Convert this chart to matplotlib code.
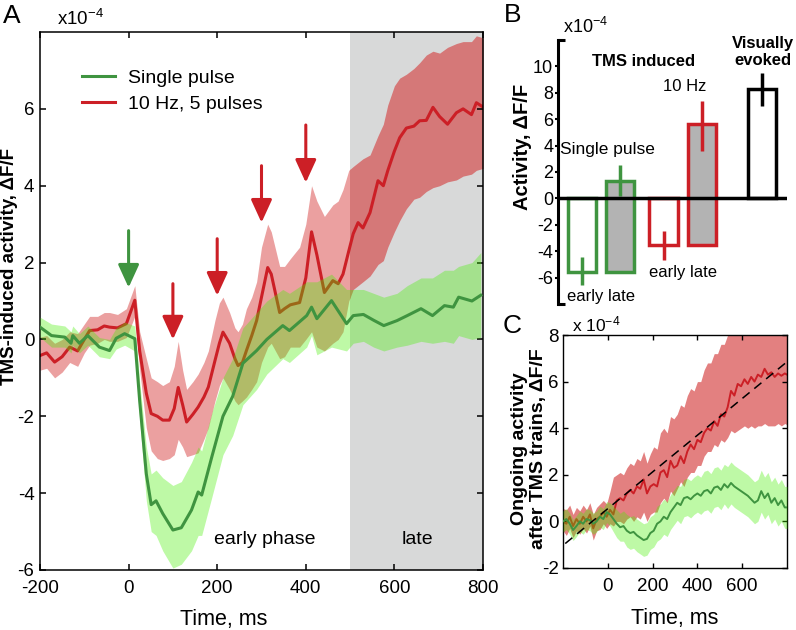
import numpy as np
import matplotlib.pyplot as plt
from matplotlib.patches import Rectangle

plt.rcParams["font.family"] = ["Liberation Sans", "DejaVu Sans"]
plt.rcParams["mathtext.fontset"] = "custom"
plt.rcParams["mathtext.rm"] = "Liberation Sans"
plt.rcParams["mathtext.it"] = "Liberation Sans:italic"
plt.rcParams["mathtext.bf"] = "Liberation Sans:bold"
plt.rcParams["axes.unicode_minus"] = False

GREEN = "#3f9440"
RED = "#cc1f26"
GREEN_FILL = "#45f000"
RED_FILL = "#eba0a0"
RED_FILL_LATE = "#d57878"
RED_FILL_C = "#e38080"
GRAY = "#d8d9d9"

# ---- panel A data (x1e-4 dF/F vs ms) ----
red_t = [-200, -185, -167, -150, -133, -115, -100, -88, -70, -55, -43, -25, -5, 14,
         25, 40, 51, 65, 77, 92, 103, 112, 122, 131, 145, 157, 170, 180, 195, 205,
         213, 228, 240, 247, 257, 266, 278, 289, 300, 314, 322, 341, 352, 365, 386,
         400, 413, 425, 442, 461, 473, 484, 497, 507, 518, 529, 545, 563, 575, 585,
         600, 612, 627, 644, 657, 672, 687, 702, 720, 740, 755, 774, 785, 800]
red_mean = [-0.42, -0.35, -0.59, -0.45, -0.2, -0.3, 0.0, 0.23, 0.25, 0.35, 0.32, 0.3, 0.41, 1.02,
            -0.3, -1.4, -1.93, -2.0, -2.1, -2.1, -1.8, -1.25, -1.7, -2.15, -1.95, -1.76, -1.5, -1.24, -0.55, -0.1,
            0.19, -0.1, -0.5, -0.68, -0.6, -0.29, 0.1, 0.49, 1.1, 1.87, 1.7, 0.7, 0.8, 0.9, 0.96,
            1.6, 2.8, 2.2, 1.22, 1.53, 1.45, 1.7, 2.3, 2.75, 3.04, 2.9, 3.3, 4.13, 4.0, 4.39,
            4.9, 5.25, 5.5, 5.55, 5.69, 5.7, 6.04, 5.8, 5.6, 5.9, 6.0, 5.85, 6.16, 6.05]
red_hi = [0.06, 0.1, -0.1, 0.0, 0.2, 0.15, 0.4, 0.6, 0.6, 0.7, 0.7, 0.65, 0.8, 1.4,
          0.2, -0.5, -1.0, -1.1, -1.2, -1.1, -0.7, -0.05, -0.8, -1.3, -1.1, -0.9, -0.6, -0.3, 0.5, 0.95,
          1.1, 0.7, 0.3, 0.2, 0.4, 0.8, 1.1, 1.5, 2.4, 3.0, 2.8, 1.9, 1.9, 2.1, 2.4,
          3.0, 4.0, 3.6, 3.2, 3.5, 3.6, 3.9, 4.4, 4.5, 4.6, 4.7, 4.8, 5.3, 5.6, 6.1,
          6.6, 6.8, 6.9, 7.05, 7.2, 7.4, 7.5, 7.45, 7.6, 7.7, 7.75, 7.75, 7.9, 7.85]
red_lo = [-0.8, -0.75, -1.0, -0.85, -0.6, -0.7, -0.35, -0.15, -0.1, 0.0, -0.05, -0.05, 0.05, 0.6,
          -0.8, -2.3, -2.9, -3.1, -3.15, -3.1, -3.0, -2.6, -2.8, -3.05, -3.0, -2.95, -2.6, -2.3, -1.6, -1.2,
          -1.0, -1.3, -1.6, -1.7, -1.6, -1.5, -1.3, -1.1, -0.6, -0.2, -0.1, -0.5, -0.45, -0.2, -0.2,
          0.0, 0.2, -0.2, -0.3, -0.1, 0.0, 0.2, 1.0, 1.3, 1.4, 1.5, 1.65, 1.95, 2.05, 2.4,
          2.8, 3.09, 3.4, 3.65, 3.7, 3.85, 3.95, 4.0, 4.1, 4.15, 4.25, 4.3, 4.4, 4.45]

green_t = [-200, -174, -144, -130, -126, -111, -92, -66, -43, -28, -9, 14, 25, 40, 51,
           62, 77, 100, 119, 142, 157, 165, 188, 213, 235, 258, 289, 312, 348, 363,
           402, 413, 425, 458, 492, 507, 530, 553, 576, 606, 629, 660, 686, 713, 733,
           745, 775, 795]
green_mean = [0.32, 0.1, 0.06, -0.1, 0.1, -0.1, 0.1, -0.2, -0.29, 0.03, 0.15, 0.02, -1.6, -3.5, -4.3,
              -4.2, -4.53, -4.96, -4.9, -4.44, -3.97, -4.05, -3.05, -2.0, -1.48, -0.62, -0.29, 0.0, 0.36, 0.23,
              0.62, 0.84, 0.54, 1.01, 0.41, 0.62, 0.65, 0.5, 0.36, 0.49, 0.62, 0.8, 0.62, 0.88, 0.84,
              1.1, 1.0, 1.15]
green_hi = [0.58, 0.4, 0.35, 0.2, 0.35, 0.15, 0.35, 0.05, 0.0, 0.3, 0.45, 0.35, -1.1, -2.8, -3.5,
            -3.4, -3.6, -3.8, -3.7, -3.2, -2.8, -2.9, -1.9, -1.0, -0.5, 0.3, 0.7, 1.0, 1.3, 1.2,
            1.5, 1.5, 1.5, 1.7, 1.3, 1.3, 1.3, 1.2, 1.1, 1.2, 1.4, 1.6, 1.6, 1.8, 1.8,
            1.9, 2.0, 2.26]
green_lo = [0.06, -0.2, -0.2, -0.35, -0.15, -0.35, -0.15, -0.45, -0.5, -0.25, -0.15, -0.3, -2.1, -4.2, -5.0,
            -5.1, -5.5, -5.95, -5.85, -5.5, -5.1, -5.1, -4.1, -3.0, -2.5, -1.7, -1.3, -0.9, -0.5, -0.6,
            -0.2, 0.1, -0.4, -0.2, -0.3, -0.1, -0.05, -0.2, -0.3, -0.2, -0.15, -0.05, -0.1, -0.05, -0.1,
            0.1, 0.0, 0.05]

# pulse arrows: time, arrow top, arrow tip
arrow_t = [0, 100, 200, 300, 400]
arrow_top = [2.83, 1.45, 2.62, 4.52, 5.58]
arrow_tip = [1.35, 0.0, 1.14, 3.04, 4.08]
arrow_col = [GREEN, RED, RED, RED, RED]

# ---- panel B data ----
early_vals = [-5.6, -3.5]
late_vals = [1.3, 5.6]
visual_val = 8.3
bar_err_center = [-5.5, 1.35, -3.6, 5.5, 8.25]
bar_err = [1.05, 1.2, 1.1, 1.9, 1.25]

# ---- panel C data ----
c_t = [-200, -185, -170, -155, -140, -125, -110, -95, -80, -65, -50, -35, -20, -5,
       10, 25, 40, 55, 70, 85, 100, 115, 130, 145, 160, 175, 190, 205,
       220, 235, 250, 265, 280, 295, 310, 325, 340, 355, 370, 385, 400, 415,
       430, 445, 460, 475, 490, 505, 520, 535, 550, 565, 580, 595, 610, 625,
       640, 655, 670, 685, 700, 715, 730, 745, 760, 775, 790, 800]
c_red = [0.0, -0.1, 0.2, -0.2, 0.1, -0.1, 0.2, 0.0, 0.3, -0.3, 0.1, 0.2, 0.4, 0.2,
         0.5, 0.3, 0.9, 1.0, 0.9, 1.2, 1.35, 1.2, 1.5, 1.4, 1.8, 1.2, 1.5, 1.6,
         1.5, 2.1, 2.2, 1.9, 2.6, 2.3, 2.4, 2.8, 2.5, 3.0, 3.3, 3.1, 3.5, 3.4,
         3.8, 4.0, 3.9, 4.3, 4.1, 4.6, 4.5, 4.9, 5.6, 5.4, 5.9, 5.8, 6.1, 5.9,
         6.2, 6.0, 6.3, 6.2, 6.55, 6.3, 6.4, 6.2, 6.35, 6.25, 6.35, 6.3]
c_red_hi = [0.55, 0.5, 0.7, 0.3, 0.6, 0.45, 0.7, 0.5, 0.8, 0.3, 0.6, 0.75, 0.9, 0.75,
            1.3, 1.9, 2.0, 2.1, 2.0, 2.3, 2.5, 2.4, 2.7, 2.6, 3.0, 2.5, 2.9, 3.2,
            3.1, 3.8, 4.0, 3.8, 4.5, 4.4, 4.6, 5.0, 4.9, 5.4, 5.7, 5.6, 6.0, 6.0,
            6.5, 6.8, 6.8, 7.2, 7.2, 7.6, 7.6, 8.0, 8.6, 8.6, 8.9, 9.0, 9.2, 9.1,
            9.3, 9.2, 9.4, 9.4, 9.6, 9.4, 9.5, 9.4, 9.5, 9.4, 9.5, 9.5]
c_red_lo = [-0.4, -0.6, -0.3, -0.7, -0.4, -0.55, -0.3, -0.5, -0.2, -0.8, -0.4, -0.35, -0.1, -0.3,
            -0.1, -0.2, 0.0, 0.0, -0.1, 0.1, 0.2, 0.0, 0.2, 0.1, 0.4, 0.0, 0.3, 0.4,
            0.4, 0.8, 1.0, 0.8, 1.3, 1.1, 1.4, 1.7, 1.5, 1.9, 2.1, 2.1, 2.4, 2.4,
            2.8, 3.0, 3.0, 3.3, 3.2, 3.5, 3.4, 3.6, 3.9, 3.8, 3.9, 4.0, 4.1, 4.0,
            4.1, 4.0, 4.1, 4.1, 4.2, 4.1, 4.1, 4.1, 4.2, 4.1, 4.2, 4.15]
c_green = [0.0, 0.1, -0.1, -0.37, -0.2, 0.0, -0.1, 0.1, 0.05, -0.1, 0.0, 0.2, 0.1, 0.4,
           0.3, 0.1, -0.1, -0.25, -0.2, -0.4, -0.5, -0.45, -0.6, -0.7, -0.8, -0.75, -0.5, -0.4,
           -0.1, 0.0, 0.2, 0.1, 0.4, 0.6, 0.8, 0.7, 1.0, 1.05, 0.95, 1.1, 1.2, 1.1,
           1.3, 1.35, 1.2, 1.45, 1.5, 1.35, 1.6, 1.45, 1.65, 1.5, 1.4, 1.3, 1.2, 1.1,
           0.95, 0.8, 0.9, 1.3, 1.0, 1.2, 0.8, 1.0, 0.7, 0.9, 0.6, 0.6]
c_green_sem = [0.45, 0.45, 0.45, 0.45, 0.45, 0.45, 0.45, 0.45, 0.45, 0.45, 0.45, 0.45, 0.45, 0.45,
               0.5, 0.55, 0.6, 0.6, 0.65, 0.7, 0.7, 0.7, 0.7, 0.7, 0.7, 0.7, 0.7, 0.7,
               0.75, 0.75, 0.75, 0.75, 0.75, 0.75, 0.75, 0.8, 0.8, 0.8, 0.8, 0.8, 0.8, 0.8,
               0.85, 0.85, 0.85, 0.85, 0.85, 0.85, 0.85, 0.9, 0.9, 0.9, 0.9, 0.9, 0.9, 0.9,
               0.9, 0.9, 0.9, 0.9, 0.9, 0.9, 0.9, 0.9, 0.9, 0.9, 0.9, 0.9]
fit_t = [-190, 800]
fit_v = [-0.95, 6.85]

W, H = 796, 630
fig = plt.figure(figsize=(W / 100, H / 100), dpi=100)


def px(x, y):
    return x / W, 1 - y / H


# ================= Panel A =================
axA = fig.add_axes([40 / W, 1 - 570 / H, 443 / W, 538 / H])
axA.axvspan(500, 800, color=GRAY, lw=0, zorder=0)

# red band is darker where it lies on the grey "late" window
band_e = axA.fill_between(red_t, red_lo, red_hi, color=RED_FILL, lw=0, zorder=1)
band_e.set_clip_path(Rectangle((-300, -10), 800, 30, transform=axA.transData))
band_l = axA.fill_between(red_t, red_lo, red_hi, color=RED_FILL_LATE, lw=0, zorder=1)
band_l.set_clip_path(Rectangle((500, -10), 400, 30, transform=axA.transData))

l_red, = axA.plot(red_t, red_mean, color=RED, lw=2.2, zorder=2)
axA.fill_between(green_t, green_lo, green_hi, color=GREEN_FILL, alpha=0.35, lw=0, zorder=3)
l_green, = axA.plot(green_t, green_mean, color=GREEN, lw=2.2, zorder=4)

for t, top, tip, c in zip(arrow_t, arrow_top, arrow_tip, arrow_col):
    axA.annotate("", xy=(t, tip), xytext=(t, top),
                 arrowprops=dict(arrowstyle="-|>,head_length=0.7,head_width=0.32",
                                 color=c, lw=2.2, mutation_scale=20,
                                 shrinkA=0, shrinkB=0), zorder=6)

axA.set_xlim(-200, 800)
axA.set_ylim(-6, 8)
axA.set_xticks([-200, 0, 200, 400, 600, 800])
axA.set_yticks([-6, -4, -2, 0, 2, 4, 6])
axA.tick_params(direction="in", top=True, right=True, length=4, width=1.1,
                labelsize=13.5)
axA.tick_params(axis="x", pad=7)
axA.tick_params(axis="y", pad=4)
for s in axA.spines.values():
    s.set_linewidth(1.1)

axA.legend([l_green, l_red], ["Single pulse", "10 Hz, 5 pulses"], loc="upper left",
           bbox_to_anchor=(0.095, 0.93), frameon=False, fontsize=14,
           handlelength=1.7, handletextpad=0.65, labelspacing=0.4,
           borderpad=0, borderaxespad=0)
axA.text(307, -5.2, "early phase", ha="center", va="center", fontsize=14)
axA.text(653, -5.2, "late", ha="center", va="center", fontsize=14)

fig.text(*px(12, 16), "A", fontsize=19, ha="center", va="center")
fig.text(*px(57, 25), r"x10$^{-4}$", fontsize=13.5, ha="left", va="baseline")
fig.text(*px(10, 266), "TMS-induced activity, \u0394F/F", fontsize=13.5,
         fontweight="bold", rotation=90, ha="center", va="center")
fig.text(*px(224, 625), "Time, ms", fontsize=15.5, ha="center", va="baseline")

# ================= Panel B =================
axB = fig.add_axes([558 / W, 1 - 304 / H, 229 / W, 264 / H])
axB.set_xlim(0, 7.16)
axB.set_ylim(-8, 12)
pos_early = [0.75, 3.31]
pos_late = [1.94, 4.5]
pos_vis = 6.375
bar_pos = [0.75, 1.94, 3.31, 4.5, 6.375]
bar_col = [GREEN, GREEN, RED, RED, "black"]
cols = [GREEN, RED]

axB.bar(pos_early, early_vals, width=0.9, facecolor="white", edgecolor=cols,
        lw=2.5, zorder=2)
axB.bar(pos_late, np.subtract(late_vals, early_vals), bottom=early_vals, width=0.9,
        facecolor="#b3b3b3", edgecolor=cols, lw=2.5, zorder=2)
axB.bar([pos_vis], [visual_val], width=0.9, facecolor="white", edgecolor="black",
        lw=2.5, zorder=2)
for x, yc, e, c in zip(bar_pos, bar_err_center, bar_err, bar_col):
    axB.errorbar([x], [yc], yerr=[e], fmt="none", ecolor=c, elinewidth=2.5,
                 capsize=0, zorder=3)
axB.axhline(0, color="black", lw=2.5, zorder=4)

for s in ["top", "right", "bottom"]:
    axB.spines[s].set_visible(False)
axB.spines["left"].set_linewidth(2.2)
axB.set_xticks([])
axB.set_yticks([-6, -4, -2, 0, 2, 4, 6, 8, 10])
axB.set_yticks([-8, 12], minor=True)
axB.tick_params(axis="y", which="major", direction="out", length=2.5, width=1.5,
                labelsize=13, pad=1)
axB.tick_params(axis="y", which="minor", direction="in", length=5, width=2.2)

axB.text(2.66, 10.4, "TMS induced", fontsize=12, fontweight="bold", ha="center", va="center")
axB.text(6.4, 11.1, "Visually\nevoked", fontsize=12, fontweight="bold", ha="center",
         va="center", linespacing=1.15)
axB.text(3.97, 8.5, "10 Hz", fontsize=12, ha="center", va="center")
axB.text(1.56, 3.7, "Single pulse", fontsize=12.5, ha="center", va="center")
axB.text(1.34, -7.4, "early late", fontsize=12, ha="center", va="center")
axB.text(3.9, -5.6, "early late", fontsize=12, ha="center", va="center")

fig.text(*px(513, 15), "B", fontsize=19, ha="center", va="center")
fig.text(*px(563, 33), r"x10$^{-4}$", fontsize=13, ha="left", va="baseline")
fig.text(*px(523, 147), "Activity, \u0394F/F", fontsize=14.5, fontweight="bold",
         rotation=90, ha="center", va="center")

# ================= Panel C =================
axC = fig.add_axes([563 / W, 1 - 568 / H, 224 / W, 233 / H])
axC.fill_between(c_t, c_red_lo, c_red_hi, color=RED_FILL_C, lw=0, zorder=1)
axC.plot(c_t, c_red, color=RED, lw=1.4, zorder=2)
c_green_lo = np.subtract(c_green, c_green_sem)
c_green_hi = np.add(c_green, c_green_sem)
axC.fill_between(c_t, c_green_lo, c_green_hi, color=GREEN_FILL, alpha=0.35, lw=0, zorder=3)
axC.plot(c_t, c_green, color=GREEN, lw=1.4, zorder=4)
axC.plot(fit_t, fit_v, color="black", lw=1.1, dashes=(6, 4), zorder=5)

axC.set_xlim(-200, 800)
axC.set_ylim(-2, 8)
axC.set_xticks([0, 200, 400, 600])
axC.set_yticks([-2, 0, 2, 4, 6, 8])
axC.tick_params(direction="in", top=True, right=True, length=3.5, width=1.0,
                labelsize=13.5)
axC.tick_params(axis="x", pad=7)
axC.tick_params(axis="y", pad=3)
for s in axC.spines.values():
    s.set_linewidth(1.0)

fig.text(*px(512, 326), "C", fontsize=19, ha="center", va="center")
fig.text(*px(572, 331), r"x 10$^{-4}$", fontsize=12.5, ha="left", va="baseline")
fig.text(*px(529, 449), "Ongoing activity\nafter TMS trains, \u0394F/F", fontsize=14,
         fontweight="bold", rotation=90, ha="center", va="center", linespacing=1.2)
fig.text(*px(675, 624), "Time, ms", fontsize=15.5, ha="center", va="baseline")

fig.savefig("out.png", dpi=100)
